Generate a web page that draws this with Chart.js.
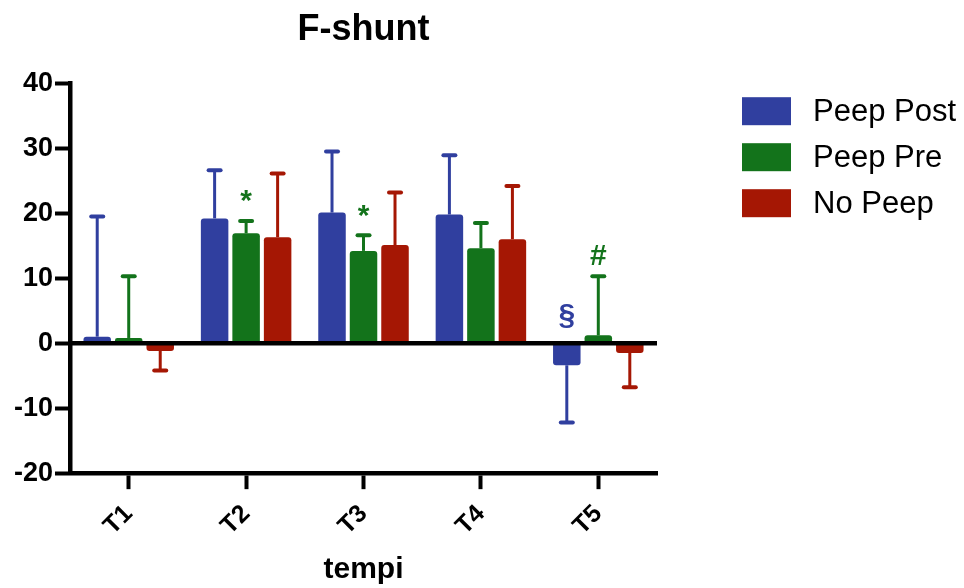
<!DOCTYPE html>
<html>
<head>
<meta charset="utf-8">
<script src="https://cdn.jsdelivr.net/npm/chart.js@4.4.1/dist/chart.umd.min.js"></script>
<style>
  html, body { margin: 0; padding: 0; background: #fff; }
  #wrap { width: 964px; height: 588px; position: relative; }
</style>
</head>
<body>
<div id="wrap"><canvas id="c"></canvas></div>
<script>
// F-shunt — grouped bars with one-sided SD error bars
const categories = ['T1', 'T2', 'T3', 'T4', 'T5'];
const seriesNames = ['Peep Post', 'Peep Pre', 'No Peep'];
const seriesColors = ['#303F9F', '#13731B', '#A51704'];

const peepPost = [1.0, 19.2, 20.1, 19.8, -3.4];
const peepPre  = [0.8, 16.9, 14.2, 14.6, 1.2];
const noPeep   = [-1.2, 16.3, 15.1, 16.0, -1.5];

const peepPostErr = [18.5, 7.4, 9.4, 9.1, 8.8];
const peepPreErr  = [9.5, 1.9, 2.4, 3.9, 9.1];
const noPeepErr   = [3.0, 9.8, 8.1, 8.2, 5.3];

const yTicks = [-20, -10, 0, 10, 20, 30, 40];

// significance marks: [series index, category index, text]
const marks = [
    [1, 1, '*'],
    [1, 2, '*'],
    [0, 4, '§'],
    [1, 4, '#']
];

const FONT = '"Liberation Sans", Arial, sans-serif';
const values = [peepPost, peepPre, noPeep];
const errors = [peepPostErr, peepPreErr, noPeepErr];

// error bars go away from zero, in the direction of the bar
const errorBars = {
    id: 'errorBars',
    afterDatasetsDraw(chart) {
        const ctx = chart.ctx;
        const y = chart.scales.y;
        ctx.save();
        chart.data.datasets.forEach((ds, di) => {
            const meta = chart.getDatasetMeta(di);
            meta.data.forEach((bar, i) => {
                const v = ds.data[i];
                const e = errors[di][i];
                const end = v + (v < 0 ? -e : e);
                const y0 = y.getPixelForValue(v);
                const y1 = y.getPixelForValue(end);
                ctx.strokeStyle = seriesColors[di];
                ctx.lineCap = 'butt';
                ctx.lineWidth = 3;
                ctx.beginPath();
                ctx.moveTo(bar.x, y0);
                ctx.lineTo(bar.x, y1);
                ctx.stroke();
                ctx.lineCap = 'round';
                ctx.lineWidth = 4;
                ctx.beginPath();
                ctx.moveTo(bar.x - 6, y1);
                ctx.lineTo(bar.x + 6, y1);
                ctx.stroke();
            });
        });
        // zero line on top of the bars
        const a = chart.chartArea;
        const yz = y.getPixelForValue(0);
        ctx.strokeStyle = '#000';
        ctx.lineWidth = 4.5;
        ctx.lineCap = 'butt';
        ctx.beginPath();
        ctx.moveTo(a.left, yz);
        ctx.lineTo(a.right, yz);
        ctx.stroke();

        // significance marks
        ctx.font = 'bold 30px ' + FONT;
        ctx.textAlign = 'center';
        ctx.textBaseline = 'bottom';
        marks.forEach(([di, i, txt]) => {
            const bar = chart.getDatasetMeta(di).data[i];
            const v = values[di][i];
            const top = v > 0 ? v + errors[di][i] : 0;
            const py = y.getPixelForValue(top);
            ctx.fillStyle = seriesColors[di];
            ctx.fillText(txt, bar.x, py - (txt === '§' ? 12 : 4));
        });
        ctx.restore();
    }
};

// legend drawn to the right of the plot
const sideLegend = {
    id: 'sideLegend',
    afterDraw(chart) {
        const ctx = chart.ctx;
        const a = chart.chartArea;
        const x0 = a.right + 85;
        ctx.save();
        ctx.font = '31px ' + FONT;
        ctx.textAlign = 'left';
        ctx.textBaseline = 'middle';
        seriesNames.forEach((name, i) => {
            const top = a.top + 14 + i * 46;
            ctx.fillStyle = seriesColors[i];
            ctx.fillRect(x0, top, 49, 28);
            ctx.fillStyle = '#000';
            ctx.fillText(name, x0 + 71, top + 15);
        });
        ctx.restore();
    }
};

new Chart(document.getElementById('c'), {
    type: 'bar',
    data: {
        labels: categories,
        datasets: seriesNames.map((name, i) => ({
            label: name,
            data: values[i],
            backgroundColor: seriesColors[i],
            borderRadius: 3,
            categoryPercentage: 0.805,
            barPercentage: 0.873
        }))
    },
    options: {
        responsive: true,
        maintainAspectRatio: false,
        animation: false,
        layout: { padding: { left: 12, right: 307, top: 4, bottom: 0 } },
        plugins: {
            legend: { display: false },
            tooltip: { enabled: false },
            title: {
                display: true,
                text: 'F-shunt',
                fullSize: false,
                color: '#000',
                font: { family: FONT, size: 36, weight: 'bold' },
                padding: { top: 4, bottom: 32 }
            }
        },
        scales: {
            x: {
                grid: { display: true, drawOnChartArea: false, offset: false, tickLength: 16, tickWidth: 4, tickColor: '#000' },
                border: { display: true, color: '#000', width: 4.5 },
                ticks: {
                    color: '#000',
                    font: { family: FONT, size: 25, weight: 'bold' },
                    minRotation: 45, maxRotation: 45, padding: 10
                },
                title: {
                    display: true, text: 'tempi', color: '#000',
                    font: { family: FONT, size: 30, weight: 'bold' },
                    padding: { top: 1, bottom: 0 }
                }
            },
            y: {
                min: yTicks[0],
                max: yTicks[yTicks.length - 1],
                afterBuildTicks: s => { s.ticks = yTicks.map(v => ({ value: v })); },
                grid: { display: true, drawOnChartArea: false, tickLength: 15, tickWidth: 4, tickColor: '#000' },
                border: { display: true, color: '#000', width: 4.5 },
                ticks: {
                    color: '#000',
                    font: { family: FONT, size: 27, weight: 'bold' },
                    padding: 2
                }
            }
        }
    },
    plugins: [errorBars, sideLegend]
});
</script>
</body>
</html>
